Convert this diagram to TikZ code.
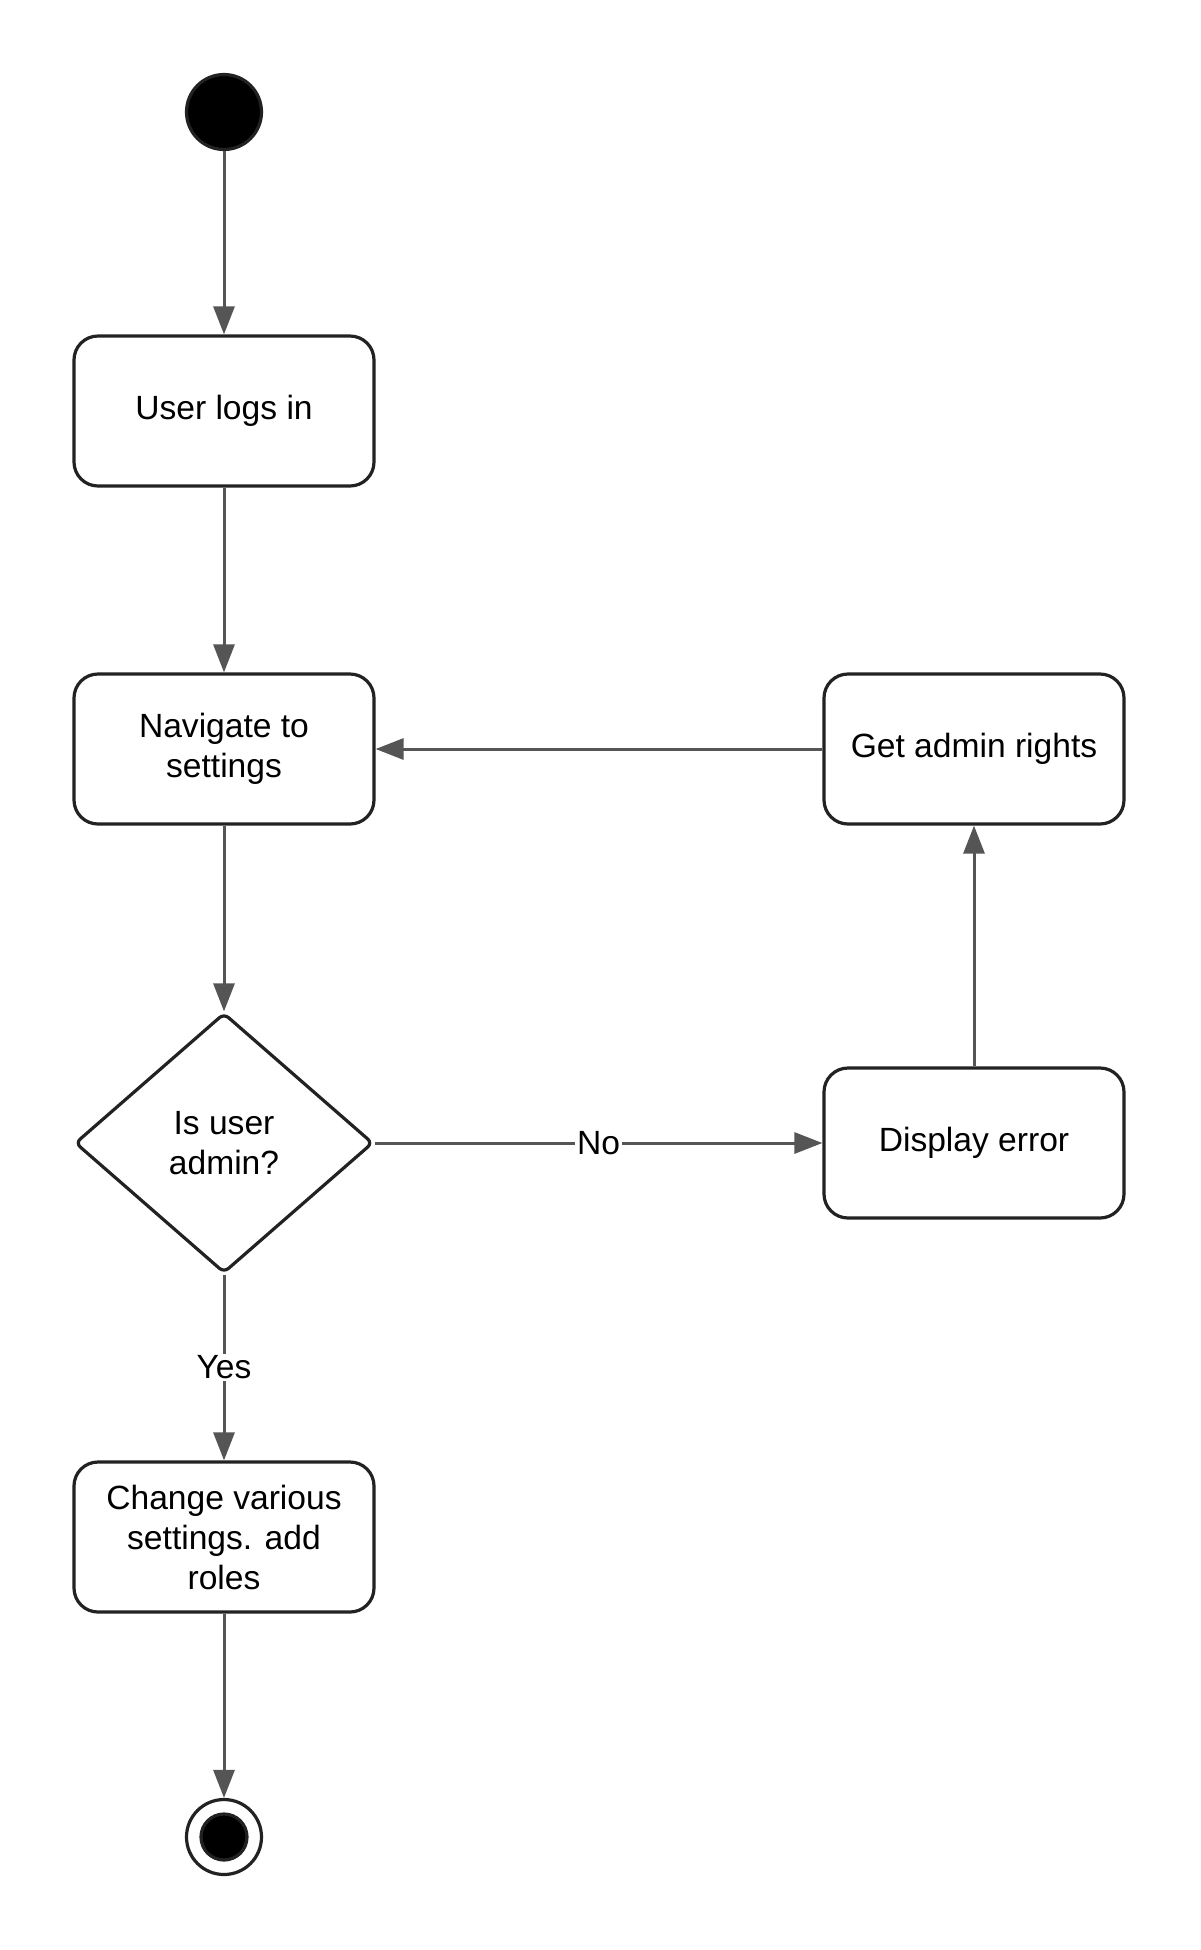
\documentclass[tikz,border=0pt]{standalone}
\usepackage{fontspec}
\setmainfont{Liberation Sans}
\usetikzlibrary{arrows.meta, shapes.geometric}

\definecolor{linegray}{HTML}{555555}
\definecolor{bordergray}{HTML}{222222}

\begin{document}
\begin{tikzpicture}[x=0.5pt,y=-0.5pt]

	\tikzset{action/.style = {shape=rectangle,draw=bordergray,line width=1.6pt,rounded corners=12pt,minimum width=150pt,minimum height=75pt,align=center,font=\fontsize{16.8}{20}\selectfont}}
	\tikzset{decision/.style = {shape=diamond,draw=bordergray,line width=1.6pt,rounded corners=3pt,minimum width=149pt,minimum height=130pt,aspect=1.15,inner sep=0pt,align=center,font=\fontsize{16.8}{20}\selectfont}}
	\tikzset{initial/.style = {shape=circle,draw=bordergray,fill=black,line width=1.6pt,minimum size=37.5pt,inner sep=0pt}}
	\tikzset{edge/.style = {draw=linegray,line width=1.5pt,-{Triangle[length=14pt,width=10.5pt]}}}
	\tikzset{guard/.style = {fill=white,inner sep=1pt,font=\fontsize{16.8}{20}\selectfont}}

	\useasboundingbox (0,0) rectangle (1200,1950);

	\node[initial] (start) at (224,112) {};
	\node[action] (login) at (224,411) {\raisebox{2pt}{User logs in}};
	\node[action] (settings) at (224,749) {Navigate to\\settings};
	\node[decision] (admin) at (224,1143) {Is user\\admin?};
	\node[action] (change) at (224,1537) {Change various\\settings. add\\roles};
	\node[action] (error) at (974,1143) {\raisebox{2pt}{Display error}};
	\node[action] (rights) at (974,749) {\raisebox{2pt}{Get admin rights}};
	\node[shape=circle,draw=bordergray,line width=1.6pt,minimum size=37.5pt,inner sep=0pt] (stop) at (224,1837) {};
	\node[initial,minimum size=23pt] (stopdot) at (stop) {};

	\draw[edge] (start) to (login);
	\draw[edge] (login) to (settings);
	\draw[edge] (settings) to (admin);
	\draw[edge] (admin) to node[guard] {Yes} (change);
	\draw[edge] (admin) to node[guard] {No} (error);
	\draw[edge] (error) to (rights);
	\draw[edge] (rights) to (settings);
	\draw[edge] (change) to (stop);
\end{tikzpicture}
\end{document}
